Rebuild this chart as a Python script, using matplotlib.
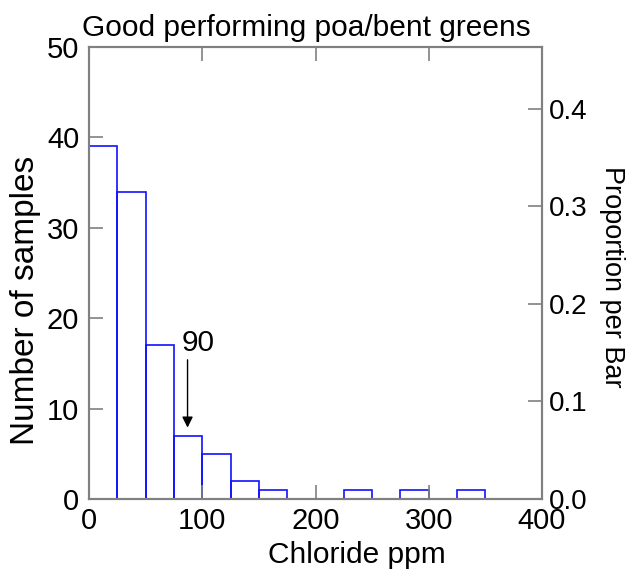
import numpy as np
import matplotlib.pyplot as plt

plt.rcParams['font.family'] = ['Liberation Sans', 'DejaVu Sans']

bin_edges = np.arange(0, 425, 25)
counts = [39, 34, 17, 7, 5, 2, 1, 0, 0, 1, 0, 1, 0, 1, 0, 0]
n_total = sum(counts)
marker_x = 87
marker_label = "90"

fig = plt.figure(figsize=(6.3, 5.73), dpi=100)
ax = fig.add_axes([0.1413, 0.1291, 0.719, 0.7888])

ax.bar(bin_edges[:-1], counts, width=25, align='edge', facecolor='none',
       edgecolor='#1010ff', linewidth=1.2)
ax.set_xlim(0, 400)
ax.set_ylim(0, 50)
ax.set_xticks([0, 100, 200, 300, 400])
ax.set_yticks([0, 10, 20, 30, 40, 50])

ax2 = ax.twinx()
ax2.set_ylim(0, 50 / n_total)
ax2.set_yticks([0.0, 0.1, 0.2, 0.3, 0.4])
ax2.set_yticklabels(['0.0', '0.1', '0.2', '0.3', '0.4'])

for a in (ax, ax2):
    for s in a.spines.values():
        s.set_color('#808080')
        s.set_linewidth(1.5)
ax.tick_params(axis='both', direction='in', length=10, width=1.2, color='#808080',
               top=True, labelsize=21)
ax.tick_params(axis='x', pad=6)
ax.tick_params(axis='y', pad=7)
ax2.tick_params(axis='y', direction='in', length=10, width=1.2, color='#808080',
                pad=5, labelsize=20)

# marker arrow and its label
ax.annotate('', xy=(marker_x, 7.9), xytext=(marker_x, 15.4),
            arrowprops=dict(arrowstyle='-|>', color='black', lw=1,
                            shrinkA=0, shrinkB=0, mutation_scale=16))
ax.text(marker_x + 9.5, 17.3, marker_label, ha='center', va='center',
        fontsize=21.5)

fig.text(357 / 630, 1 - 555 / 573, 'Chloride ppm', ha='center', va='center',
         fontsize=21.5)
fig.text(26 / 630, 1 - 300 / 573, 'Number of samples', ha='center', va='center',
         rotation=90, fontsize=24)
fig.text(612 / 630, 1 - 277 / 573, 'Proportion per Bar', ha='center', va='center',
         rotation=270, fontsize=19.5)
fig.text(306 / 630, 1 - 36 / 573, 'Good performing poa/bent greens', ha='center',
         va='baseline', fontsize=21.5)

fig.savefig('out.png', dpi=100)
